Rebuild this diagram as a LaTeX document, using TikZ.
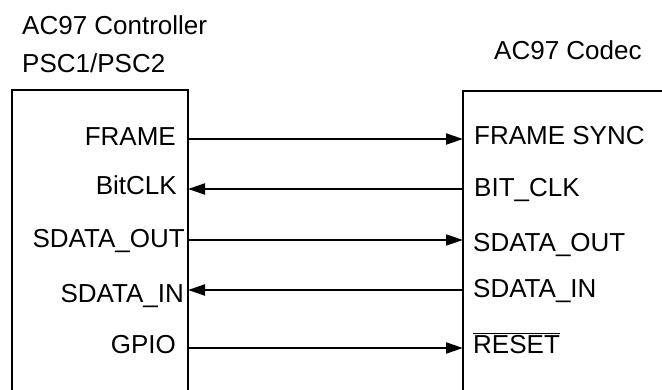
\documentclass[tikz,border=0pt]{standalone}
\usepackage{fontspec}
\setmainfont{Liberation Sans}
\usetikzlibrary{arrows.meta}

\tikzset{
  chip/.style={line width=2.8pt},
  sig/.style={line width=2pt, -{Triangle[length=17pt,width=11pt]}},
  pinL/.style={anchor=base east, inner sep=0pt},
  pinR/.style={anchor=base west, inner sep=0pt},
  title/.style={anchor=base west, inner sep=0pt}
}

\begin{document}
\begin{tikzpicture}[x=1pt, y=-1pt, font=\fontsize{26}{31}\selectfont]
    \useasboundingbox (0,0) rectangle (662,390);

    % titles
    \node[title] (ctlName) at (22,35) {AC97 Controller};
    \node[title] (ctlPsc) at (22,73) {PSC1/PSC2};
    \node[title] (cdcName) at (494,60) {AC97 Codec};

    % controller box (open at the bottom)
    \draw[chip] (12,392) -- (12,90) -- (188,90) -- (188,392);

    % codec box (open at the bottom and right)
    \draw[chip] (463,392) -- (463,91) -- (664,91);

    % controller pins
    \node[pinL] (ctlFrame) at (176,146) {FRAME};
    \node[pinL] (ctlClk) at (177,195) {BitCLK};
    \node[pinL] (ctlOut) at (185,248) {SDATA\_OUT};
    \node[pinL] (ctlIn) at (184,303) {SDATA\_IN};
    \node[pinL] (ctlGpio) at (176,354) {GPIO};

    % codec pins
    \node[pinR] (cdcSync) at (474,145) {FRAME SYNC};
    \node[pinR] (cdcClk) at (474,197) {BIT\_CLK};
    \node[pinR] (cdcOut) at (473,252) {SDATA\_OUT};
    \node[pinR] (cdcIn) at (473,298) {SDATA\_IN};
    \node[pinR] (cdcReset) at (473,353) {$\overline{\hbox{RESET}}$};

    % pin points on the box edges
    \coordinate (lFrame) at (188,139);
    \coordinate (lClk) at (188,189);
    \coordinate (lOut) at (188,240);
    \coordinate (lIn) at (188,290);
    \coordinate (lGpio) at (188,348);
    \coordinate (rSync) at (463,139);
    \coordinate (rClk) at (463,189);
    \coordinate (rOut) at (463,240);
    \coordinate (rIn) at (463,290);
    \coordinate (rReset) at (463,348);

    % signals
    \draw[sig] (lFrame) -- (rSync);
    \draw[sig] (rClk) -- (lClk);
    \draw[sig] (lOut) -- (rOut);
    \draw[sig] (rIn) -- (lIn);
    \draw[sig] (lGpio) -- (rReset);
\end{tikzpicture}
\end{document}
